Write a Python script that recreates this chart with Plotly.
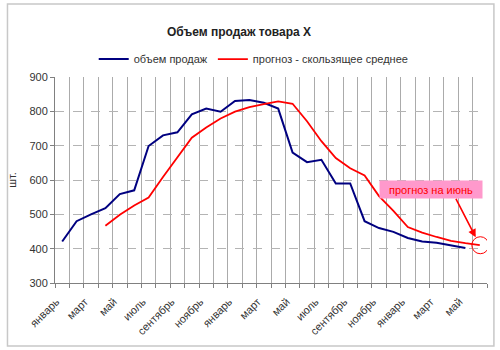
import plotly.graph_objects as go

# Monthly sales volume (units), January of year 1 to May of year 3
month_names = ["январь", "февраль", "март", "апрель", "май", "июнь",
               "июль", "август", "сентябрь", "октябрь", "ноябрь", "декабрь"]
sales = [421, 480, 500, 518, 559, 570, 699, 730, 739, 791, 808, 799,
         830, 833, 825, 808, 680, 652, 659, 590, 590, 480, 460, 449,
         431, 421, 417, 410, 402]
# 3-month moving-average forecast, including June of year 3
forecast = [None, None, None, 467, 499, 526, 549, 609, 666, 723, 753, 779,
            799, 812, 821, 829, 822, 771, 713, 664, 634, 613, 553, 510,
            463, 447, 434, 423, 416, 410]

n_periods = len(forecast)
periods = list(range(n_periods))
period_labels = [month_names[i % 12] for i in periods]
tick_positions = periods[::2]
tick_labels = [period_labels[i] for i in tick_positions]

FONT = "Liberation Sans, Arial, sans-serif"

fig = go.Figure()
fig.add_trace(go.Scatter(
    x=periods[:len(sales)], y=sales, mode="lines", name="объем продаж",
    line=dict(color="#000080", width=2),
))
fig.add_trace(go.Scatter(
    x=periods, y=forecast, mode="lines", name="прогноз - скользящее среднее",
    line=dict(color="#ff0000", width=1.8),
))

last_x = periods[-1]
last_y = forecast[-1]

# circle around the June forecast point
fig.add_shape(type="circle", xref="x", yref="y", xsizemode="pixel", ysizemode="pixel",
              xanchor=last_x, yanchor=last_y, x0=-8, x1=9, y0=-8.5, y1=8.5,
              line=dict(color="#ff0000", width=1))

# outer chart border
fig.add_shape(type="rect", xref="paper", yref="paper",
              x0=-0.110, x1=1.016, y0=-0.306, y1=1.354,
              line=dict(color="#c8c8c8", width=1.5), layer="below")

# label box
fig.add_annotation(x=25.63, y=571.5, xref="x", yref="y", showarrow=False,
                   text="прогноз на июнь", font=dict(family=FONT, size=11, color="#ff0000"),
                   bgcolor="#ff99cc", width=100, height=15, borderpad=1)
# arrow from the label to the forecast point
fig.add_annotation(x=last_x, y=last_y, xref="x", yref="y",
                   ax=27.29, ay=549.6, axref="x", ayref="y",
                   text="", showarrow=True, arrowhead=2, arrowsize=1,
                   arrowwidth=1.6, arrowcolor="#ff0000", standoff=9)

fig.update_layout(
    width=500, height=350,
    margin=dict(l=52, r=13, t=77, b=67),
    paper_bgcolor="white", plot_bgcolor="white",
    font=dict(family=FONT, size=11, color="#333333"),
    title=dict(text="<b>Объем продаж товара X</b>", x=0.478, xanchor="center",
               y=1 - 31.7 / 350, yanchor="middle", yref="container",
               font=dict(family=FONT, size=12, color="#222222")),
    legend=dict(orientation="h", x=0.46, xanchor="center", y=1.087, yanchor="middle",
                font=dict(family=FONT, size=11, color="#333333"),
                itemwidth=30, bgcolor="rgba(0,0,0,0)"),
    showlegend=True,
)

fig.update_xaxes(
    range=[-0.5, n_periods - 0.5],
    tickmode="array", tickvals=tick_positions, ticktext=tick_labels,
    tickangle=-45, ticks="", showgrid=False,
    ticklabelstandoff=7, ticklabelshift=-6,
    tickfont=dict(family=FONT, size=11, color="#333333"),
    showline=True, linecolor="#808080", linewidth=1,
    minor=dict(tickmode="linear", tick0=-0.5, dtick=1, ticks="outside", ticklen=4,
               tickcolor="#808080", showgrid=True, gridcolor="#ababab", gridwidth=1),
    zeroline=False,
)
fig.update_yaxes(
    range=[300, 900], dtick=100, tick0=300,
    showgrid=True, gridcolor="#b4b4b4", griddash="dash", gridwidth=1,
    ticks="outside", ticklen=4, tickcolor="#808080",
    showline=True, linecolor="#808080", linewidth=1,
    tickfont=dict(family=FONT, size=11, color="#333333"),
    title=dict(text="шт.", font=dict(family=FONT, size=11, color="#333333"), standoff=10),
    zeroline=False,
)

fig.write_html("out.html")
